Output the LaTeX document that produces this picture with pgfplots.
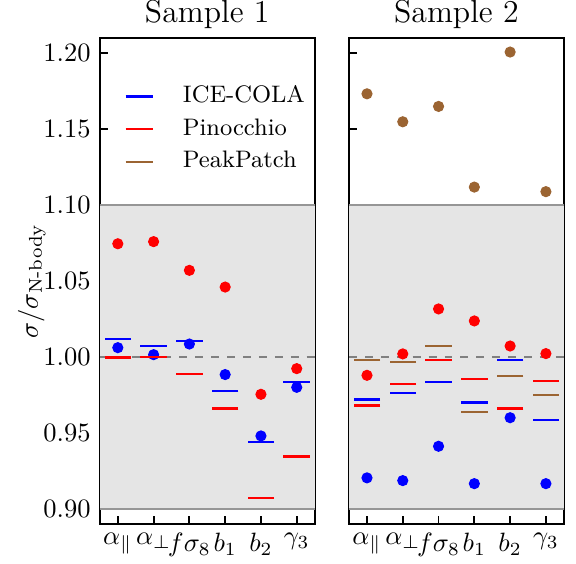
\documentclass[border=0pt]{standalone}
\usepackage{pgfplots}
\usepackage{amsmath}
\pgfplotsset{compat=1.18}
\definecolor{pbrown}{RGB}{155,100,50}
\definecolor{bandgray}{RGB}{229,229,229}
\definecolor{bandedge}{RGB}{150,150,150}
\pgfplotsset{
  panel/.style={
    scale only axis,
    width=81pt, height=183.4pt,
    xmin=-0.5, xmax=5.5, ymin=0.89, ymax=1.21,
    xtick={0,1,2,3,4,5},
    xticklabels={$\alpha_\parallel$,$\alpha_\perp$,$f\sigma_8$,$b_1$,$b_2$,$\gamma_3$},
    ytick={0.90,0.95,1.00,1.05,1.10,1.15,1.20},
    yticklabel style={/pgf/number format/.cd,fixed,fixed zerofill,precision=2},
    tick align=inside,
    xtick pos=bottom, ytick pos=left,
    major tick length=3pt,
    minor tick num=0,
    axis line style={line width=0.7pt},
    tick style={line width=0.7pt, black},
    title style={font=\large, yshift=-6pt},
    clip=false,
    legend image code/.code={\draw[#1] (0pt,0pt) -- (10.2pt,0pt);},
  },
  dots/.style={only marks, mark=*, mark size=1.9pt, mark options={draw=#1, fill=#1}, color=#1, forget plot},
  bars/.style={only marks, mark=-, mark size=5pt, mark options={line width=0.85pt, draw=#1}, color=#1, forget plot},
}
\begin{document}
\begin{tikzpicture}
\useasboundingbox (-37.7pt,-14.7pt) rectangle (179.6pt,197.7pt);
\begin{axis}[panel, title={Sample 1},
  ylabel={$\sigma/\sigma_{\text{N-body}}$},
  ylabel style={at={(axis description cs:-0.317,0.5)}, anchor=center},
  legend style={draw=none, fill=none, at={(0.075,0.925)}, anchor=north west,
    row sep=0pt, font=\small,
    nodes={inner xsep=11pt, inner ysep=2pt, text height=6.5pt, text depth=1.8pt}},
  legend cell align=left]
\fill[bandgray] (axis cs:-0.5,0.9) rectangle (axis cs:5.5,1.1);
\draw[bandedge, line width=0.6pt] (axis cs:-0.5,0.9) -- (axis cs:5.5,0.9);
\draw[bandedge, line width=0.6pt] (axis cs:-0.5,1.1) -- (axis cs:5.5,1.1);
\draw[gray, dashed, line width=0.6pt] (axis cs:-0.5,1.0) -- (axis cs:5.5,1.0);
% dots
\addplot[dots=red] coordinates {(0,1.0745) (1,1.0759) (2,1.057) (3,1.046) (4,0.9754) (5,0.9923)};
\addplot[dots=blue] coordinates {(0,1.0061) (1,1.0015) (2,1.0085) (3,0.9884) (4,0.948) (5,0.980)};
% lines
\addplot[bars=blue] coordinates {(0,1.012) (1,1.0074) (2,1.0107) (3,0.9778) (4,0.944) (5,0.9835)};
\addplot[bars=red] coordinates {(0,0.9997) (1,1.0000) (2,0.989) (3,0.966) (4,0.907) (5,0.9344)};
\addlegendimage{blue, line width=0.85pt, no markers}
\addlegendentry{ICE-COLA}
\addlegendimage{red, line width=0.85pt, no markers}
\addlegendentry{Pinocchio}
\addlegendimage{pbrown, line width=0.85pt, no markers}
\addlegendentry{PeakPatch}
\end{axis}
\begin{axis}[panel, title={Sample 2}, at={(94pt,0)}, yticklabels={}]
\fill[bandgray] (axis cs:-0.5,0.9) rectangle (axis cs:5.5,1.1);
\draw[bandedge, line width=0.6pt] (axis cs:-0.5,0.9) -- (axis cs:5.5,0.9);
\draw[bandedge, line width=0.6pt] (axis cs:-0.5,1.1) -- (axis cs:5.5,1.1);
\draw[gray, dashed, line width=0.6pt] (axis cs:-0.5,1.0) -- (axis cs:5.5,1.0);
% dots
\addplot[dots=pbrown] coordinates {(0,1.1732) (1,1.1548) (2,1.1649) (3,1.1118) (4,1.2007) (5,1.1088)};
\addplot[dots=red] coordinates {(0,0.9879) (1,1.002) (2,1.0316) (3,1.0237) (4,1.0072) (5,1.0022)};
\addplot[dots=blue] coordinates {(0,0.9204) (1,0.9186) (2,0.9412) (3,0.9166) (4,0.960) (5,0.9166)};
% lines
\addplot[bars=pbrown] coordinates {(0,0.9982) (1,0.9967) (2,1.0074) (3,0.9638) (4,0.9873) (5,0.975)};
\addplot[bars=red] coordinates {(0,0.968) (1,0.9822) (2,0.9982) (3,0.9857) (4,0.966) (5,0.984)};
\addplot[bars=blue] coordinates {(0,0.972) (1,0.9765) (2,0.9833) (3,0.970) (4,0.9982) (5,0.9583)};
\end{axis}
\end{tikzpicture}
\end{document}
